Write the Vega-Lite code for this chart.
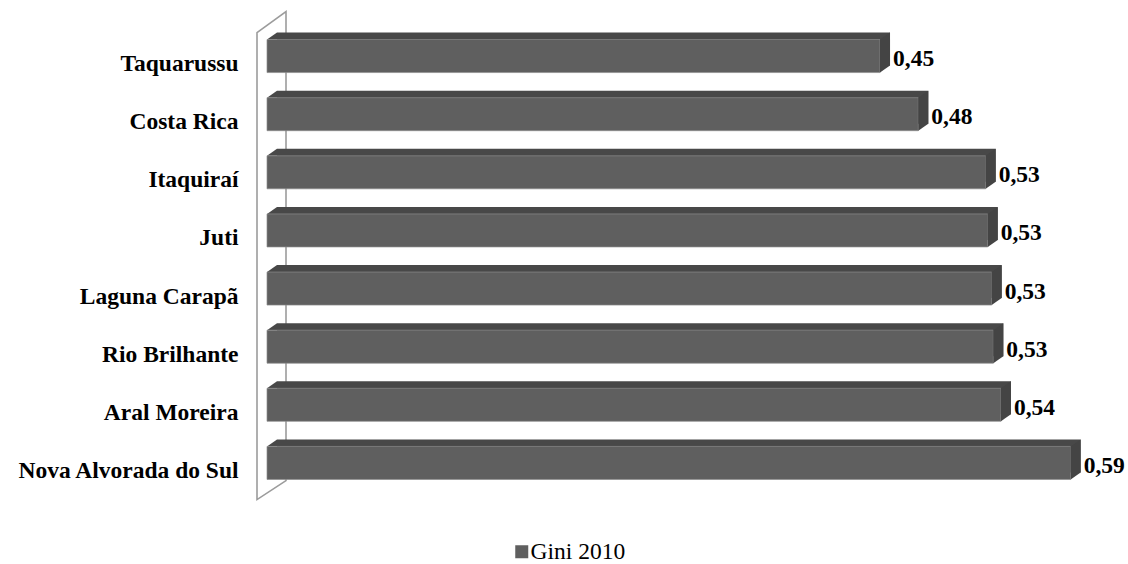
{
  "$schema": "https://vega.github.io/schema/vega-lite/v6.json",
  "width": 817,
  "height": 465,
  "autosize": "none",
  "padding": {"left": 267, "top": 27, "right": 44, "bottom": 72},
  "background": "white",
  "config": {
    "view": {"stroke": null},
    "locale": {"number": {"decimal": ",", "thousands": ".", "grouping": [3], "currency": ["R$", ""]}}
  },
  "data": {
    "values": [
      {"municipio": "Taquarussu", "gini": 0.4502, "serie": "Gini 2010"},
      {"municipio": "Costa Rica", "gini": 0.4783, "serie": "Gini 2010"},
      {"municipio": "Itaquiraí", "gini": 0.5278, "serie": "Gini 2010"},
      {"municipio": "Juti", "gini": 0.5293, "serie": "Gini 2010"},
      {"municipio": "Laguna Carapã", "gini": 0.5322, "serie": "Gini 2010"},
      {"municipio": "Rio Brilhante", "gini": 0.5334, "serie": "Gini 2010"},
      {"municipio": "Aral Moreira", "gini": 0.539, "serie": "Gini 2010"},
      {"municipio": "Nova Alvorada do Sul", "gini": 0.5902, "serie": "Gini 2010"}
    ]
  },
  "encoding": {
    "y": {
      "field": "municipio",
      "type": "nominal",
      "sort": null,
      "scale": {"paddingInner": 0.432, "paddingOuter": 0.216},
      "axis": {
        "title": null,
        "domain": false,
        "ticks": false,
        "labelPadding": 29,
        "labelOffset": 8,
        "labelLimit": 400,
        "labelFont": "Liberation Serif",
        "labelFontSize": 23.5,
        "labelFontWeight": "bold",
        "labelColor": "#000000"
      }
    },
    "x": {"field": "gini", "type": "quantitative", "scale": {"domain": [0, 0.6]}, "axis": null}
  },
  "layer": [
    {
      "transform": [{"filter": "datum.municipio === 'Taquarussu'"}],
      "mark": {
        "type": "point",
        "shape": "M-10,-23.5 L19,-44.5 L19,424.5 L-10,443.5 Z",
        "size": 4,
        "filled": false,
        "stroke": "#9c9c9c",
        "strokeWidth": 1.6,
        "opacity": 1
      },
      "encoding": {
        "x": {"datum": 0, "type": "quantitative"}
      }
    },
    {
      "mark": {"type": "bar", "color": "#484848", "xOffset": 10, "x2Offset": 10, "yOffset": -7, "y2Offset": -7}
    },
    {
      "mark": {
        "type": "point",
        "shape": "M0,-16.5 L10,-23.5 L10,-16.5 Z",
        "size": 4,
        "filled": true,
        "color": "#484848",
        "strokeWidth": 0,
        "opacity": 1
      },
      "encoding": {
        "x": {"datum": 0, "type": "quantitative"}
      }
    },
    {
      "mark": {"type": "bar", "stroke": "#8c8c8c", "strokeWidth": 0.7},
      "encoding": {
        "color": {
          "field": "serie",
          "type": "nominal",
          "scale": {"range": ["#5f5f5f"]},
          "legend": {
            "title": null,
            "orient": "none",
            "legendX": 243,
            "legendY": 513,
            "padding": 0,
            "symbolType": "square",
            "symbolSize": 169,
            "symbolStrokeWidth": 0,
            "labelFont": "Liberation Serif",
            "labelFontSize": 23.5,
            "labelColor": "#000000",
            "labelOffset": -3
          }
        }
      }
    },
    {
      "mark": {
        "type": "point",
        "shape": "M0,-16.5 L10,-23.5 L10,9.5 L0,16.5 Z",
        "size": 4,
        "filled": true,
        "color": "#444444",
        "strokeWidth": 0,
        "opacity": 1
      }
    },
    {
      "mark": {
        "type": "text",
        "align": "left",
        "baseline": "alphabetic",
        "dx": 13,
        "dy": 10,
        "font": "Liberation Serif",
        "fontSize": 23.5,
        "fontWeight": "bold",
        "color": "#000000"
      },
      "encoding": {
        "text": {"field": "gini", "type": "quantitative", "format": ".2f"}
      }
    }
  ]
}
